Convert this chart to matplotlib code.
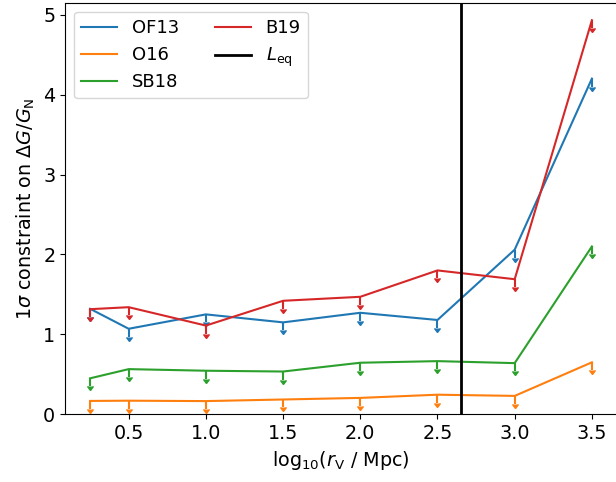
import matplotlib
matplotlib.use('Agg')
import matplotlib.pyplot as plt
import numpy as np

plt.rcParams['font.size'] = 13.8

log_rv = np.array([0.25, 0.5, 1.0, 1.5, 2.0, 2.5, 3.0, 3.5])

of13 = [1.32, 1.07, 1.25, 1.15, 1.27, 1.18, 2.06, 4.20]
o16 = [0.167, 0.17, 0.165, 0.185, 0.205, 0.245, 0.23, 0.65]
sb18 = [0.45, 0.565, 0.545, 0.535, 0.645, 0.665, 0.64, 2.10]
b19 = [1.315, 1.34, 1.11, 1.42, 1.47, 1.80, 1.69, 4.93]

labels = ['OF13', 'O16', 'SB18', 'B19']
L_eq = 2.655
arrow_len = 0.1

fig = plt.figure(figsize=(6.16, 4.82), dpi=100)
ax = fig.add_axes([0.1055, 0.1405, 0.8961, 0.8539])

for i, (vals, lab) in enumerate(zip([of13, o16, sb18, b19], labels)):
    c = 'C%d' % i
    ax.plot(log_rv, vals, color=c, lw=1.5, label=lab)
    # obere Grenzen als Pfeile nach unten
    _, caps, _ = ax.errorbar(log_rv, vals, yerr=arrow_len, uplims=True,
                             fmt='none', color=c, elinewidth=1.5)
    for cap in caps:
        cap.set_markersize(3.8)
        cap.set_color(c)

ax.axvline(L_eq, color='k', lw=2, label=r'$L_{\rm eq}$')

ax.set_xlim(0.0875, 3.6625)
ax.set_ylim(0, 5.15)
ax.set_xticks([0.5, 1.0, 1.5, 2.0, 2.5, 3.0, 3.5])
ax.set_xlabel(r'$\mathrm{log}_{10}(r_{\rm V}$ / Mpc)')
ax.set_ylabel(r'$1\sigma$ constraint on $\Delta G/G_{\rm N}$')
ax.legend(loc='upper left', ncol=2, fontsize=13)

fig.savefig('out.png', dpi=100)
